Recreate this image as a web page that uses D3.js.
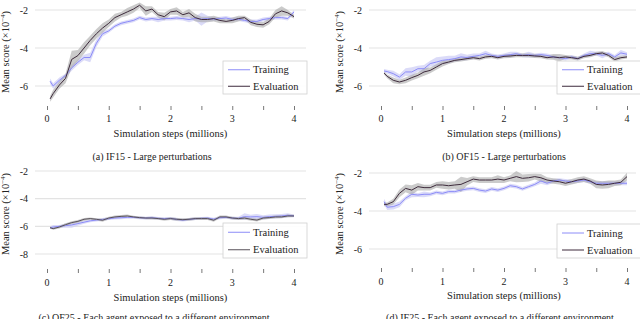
<!DOCTYPE html>
<html>
<head>
<meta charset="utf-8">
<script src="https://cdn.jsdelivr.net/npm/d3@7"></script>
<style>
  body { margin: 0; background: #fff; }
  svg { display: block; font-family: "Liberation Serif", "DejaVu Serif", serif; }
</style>
</head>
<body>
<svg id="chart" width="640" height="319"></svg>
<script>
// simulation steps (millions)
const steps = [0.05, 0.1, 0.2, 0.3, 0.4, 0.5, 0.6, 0.7, 0.8, 0.9, 1.0, 1.1, 1.2, 1.3, 1.4, 1.5, 1.6, 1.7, 1.8, 1.9, 2.0,
  2.1, 2.2, 2.3, 2.4, 2.5, 2.6, 2.7, 2.8, 2.9, 3.0, 3.1, 3.2, 3.3, 3.4, 3.5, 3.6, 3.7, 3.8, 3.9, 4.0];
const xTicks = [0, 1, 2, 3, 4];
const xMinorTicks = [0, 0.5, 1, 1.5, 2, 2.5, 3, 3.5, 4];

// (a) IF15
const trainIF15 = [-5.75, -6.0, -5.7, -5.45, -5.05, -4.75, -4.5, -4.5, -3.75, -3.25, -3.1, -2.85, -2.7, -2.62, -2.55, -2.4, -2.5, -2.45, -2.5, -2.45, -2.45,
  -2.42, -2.45, -2.5, -2.45, -2.48, -2.45, -2.48, -2.45, -2.42, -2.5, -2.48, -2.55, -2.6, -2.6, -2.5, -2.45, -2.4, -2.4, -2.45, -2.1];
const evalIF15 = [-6.68, -6.4, -5.95, -5.6, -4.6, -4.4, -4.0, -3.6, -3.25, -2.95, -2.7, -2.4, -2.25, -2.1, -1.95, -1.75, -2.05, -1.95, -2.25, -2.35, -2.1,
  -2.05, -2.25, -2.15, -2.4, -2.5, -2.5, -2.45, -2.55, -2.6, -2.55, -2.45, -2.4, -2.65, -2.75, -2.78, -2.6, -2.2, -2.05, -2.15, -2.35];
const trainIF15Band = [0.15, 0.15, 0.15, 0.1, 0.15, 0.15, 0.15, 0.25, 0.2, 0.15, 0.1, 0.1, 0.1, 0.1, 0.1, 0.1, 0.1, 0.1, 0.15, 0.1, 0.1,
  0.1, 0.1, 0.15, 0.1, 0.35, 0.15, 0.1, 0.1, 0.1, 0.1, 0.1, 0.1, 0.1, 0.1, 0.1, 0.1, 0.1, 0.1, 0.1, 0.1];
const evalIF15Band = [0.15, 0.2, 0.2, 0.25, 0.45, 0.3, 0.3, 0.25, 0.25, 0.25, 0.2, 0.2, 0.15, 0.2, 0.2, 0.15, 0.25, 0.15, 0.15, 0.2, 0.15,
  0.2, 0.15, 0.2, 0.2, 0.15, 0.15, 0.15, 0.15, 0.1, 0.15, 0.15, 0.1, 0.15, 0.15, 0.15, 0.15, 0.2, 0.25, 0.15, 0.1];

// (b) OF15
const trainOF15 = [-5.21, -5.24, -5.35, -5.53, -5.26, -5.26, -5.09, -5.09, -4.82, -4.74, -4.65, -4.61, -4.56, -4.47, -4.5, -4.44, -4.39, -4.3, -4.39, -4.44, -4.39,
  -4.35, -4.3, -4.39, -4.35, -4.39, -4.35, -4.39, -4.47, -4.51, -4.56, -4.47, -4.56, -4.39, -4.3, -4.3, -4.39, -4.3, -4.47, -4.26, -4.33];
const evalOF15 = [-5.32, -5.49, -5.7, -5.79, -5.7, -5.56, -5.44, -5.26, -5.18, -5.0, -4.82, -4.74, -4.65, -4.61, -4.56, -4.51, -4.56, -4.47, -4.44, -4.51, -4.44,
  -4.42, -4.39, -4.39, -4.39, -4.42, -4.44, -4.51, -4.47, -4.51, -4.47, -4.51, -4.56, -4.44, -4.39, -4.3, -4.26, -4.39, -4.61, -4.51, -4.47];
const trainOF15Band = [0.1, 0.1, 0.15, 0.15, 0.2, 0.25, 0.15, 0.2, 0.15, 0.25, 0.2, 0.2, 0.15, 0.2, 0.15, 0.15, 0.1, 0.15, 0.1, 0.1, 0.1,
  0.15, 0.1, 0.1, 0.15, 0.1, 0.1, 0.1, 0.1, 0.1, 0.1, 0.1, 0.1, 0.1, 0.15, 0.1, 0.15, 0.1, 0.1, 0.15, 0.1];
const evalOF15Band = [0.08, 0.1, 0.15, 0.12, 0.15, 0.15, 0.15, 0.2, 0.15, 0.15, 0.15, 0.1, 0.1, 0.1, 0.1, 0.1, 0.1, 0.1, 0.1, 0.1, 0.1,
  0.1, 0.1, 0.1, 0.1, 0.1, 0.1, 0.1, 0.15, 0.2, 0.1, 0.1, 0.1, 0.1, 0.1, 0.1, 0.1, 0.1, 0.12, 0.1, 0.08];

// (c) OF25
const trainOF25 = [-6.1, -6.05, -6.0, -5.95, -5.9, -5.8, -5.7, -5.6, -5.55, -5.5, -5.45, -5.4, -5.38, -5.35, -5.35, -5.38, -5.4, -5.38, -5.42, -5.45, -5.42,
  -5.5, -5.55, -5.5, -5.45, -5.42, -5.4, -5.48, -5.38, -5.35, -5.4, -5.42, -5.3, -5.32, -5.3, -5.35, -5.3, -5.28, -5.25, -5.2, -5.25];
const evalOF25 = [-6.1, -6.17, -6.05, -5.88, -5.73, -5.64, -5.49, -5.44, -5.49, -5.56, -5.4, -5.32, -5.28, -5.25, -5.32, -5.37, -5.4, -5.4, -5.44, -5.49, -5.44,
  -5.49, -5.52, -5.49, -5.44, -5.44, -5.44, -5.56, -5.32, -5.32, -5.4, -5.44, -5.4, -5.49, -5.55, -5.4, -5.37, -5.32, -5.32, -5.25, -5.25];
const trainOF25Band = [0.1, 0.15, 0.1, 0.15, 0.2, 0.15, 0.12, 0.1, 0.1, 0.1, 0.1, 0.1, 0.1, 0.1, 0.1, 0.1, 0.1, 0.1, 0.1, 0.1, 0.1,
  0.12, 0.1, 0.1, 0.1, 0.1, 0.1, 0.1, 0.1, 0.1, 0.1, 0.12, 0.25, 0.15, 0.2, 0.15, 0.15, 0.15, 0.15, 0.15, 0.1];
const evalOF25Band = [0.08, 0.08, 0.1, 0.1, 0.1, 0.1, 0.1, 0.08, 0.08, 0.1, 0.1, 0.1, 0.1, 0.1, 0.08, 0.08, 0.08, 0.1, 0.08, 0.1, 0.1,
  0.1, 0.1, 0.1, 0.1, 0.1, 0.1, 0.1, 0.1, 0.1, 0.1, 0.1, 0.1, 0.1, 0.1, 0.1, 0.1, 0.1, 0.1, 0.1, 0.08];

// (d) IF25
const trainIF25 = [-3.51, -3.8, -3.77, -3.65, -3.33, -3.12, -3.16, -3.12, -3.12, -3.02, -3.07, -2.98, -2.98, -2.9, -2.84, -2.81, -2.9, -2.95, -2.84, -2.9, -2.81,
  -2.67, -2.72, -2.84, -2.72, -2.6, -2.42, -2.54, -2.42, -2.37, -2.42, -2.46, -2.42, -2.37, -2.46, -2.54, -2.54, -2.54, -2.54, -2.54, -2.54];
const evalIF25 = [-3.65, -3.65, -3.51, -3.07, -2.81, -2.9, -2.72, -2.77, -2.77, -2.63, -2.63, -2.67, -2.63, -2.6, -2.46, -2.32, -2.37, -2.37, -2.37, -2.32, -2.37,
  -2.28, -2.19, -2.28, -2.25, -2.19, -2.25, -2.37, -2.42, -2.46, -2.54, -2.46, -2.37, -2.32, -2.42, -2.6, -2.63, -2.6, -2.54, -2.49, -2.19];
const trainIF25Band = [0.15, 0.15, 0.15, 0.15, 0.1, 0.15, 0.1, 0.15, 0.1, 0.1, 0.1, 0.1, 0.1, 0.1, 0.1, 0.1, 0.1, 0.1, 0.1, 0.1, 0.1,
  0.1, 0.1, 0.1, 0.1, 0.1, 0.15, 0.1, 0.1, 0.1, 0.1, 0.1, 0.1, 0.1, 0.1, 0.1, 0.1, 0.1, 0.1, 0.1, 0.1];
const evalIF25Band = [0.1, 0.1, 0.15, 0.2, 0.2, 0.25, 0.2, 0.15, 0.15, 0.15, 0.2, 0.2, 0.2, 0.4, 0.2, 0.15, 0.15, 0.15, 0.15, 0.2, 0.15,
  0.15, 0.3, 0.2, 0.2, 0.15, 0.2, 0.15, 0.15, 0.15, 0.15, 0.15, 0.15, 0.15, 0.15, 0.2, 0.2, 0.2, 0.15, 0.15, 0.2];

let trainColor = "#8c8cf8";
let trainBandColor = "#cfcff6";
let evalColor = "#3e2b3c";
let evalBandColor = "#a9a9a9";

const svg = d3.select("#chart");

// pixel frame of every panel
const panels = [
  { id: "a", caption: "(a) IF15 - Large perturbations", yTicks: [-6, -4, -2],
    train: trainIF15, evalv: evalIF15, trainBand: trainIF15Band, evalBand: evalIF15Band,
    gx: [35, 306], xr: [47, 294], yd: [-6, -2], yr: [86, 10], top: 0, bottom: 105,
    tickY: 106, labelY: 122, titleY: 137, capX: 152, capY: 160, yTitleX: 9, yTitleY: 52, yLabX: 28,
    legend: [223, 61, 84, 33], evalColor: evalColor },
  { id: "b", caption: "(b) OF15 - Large perturbations", yTicks: [-6, -4, -2],
    train: trainOF15, evalv: evalOF15, trainBand: trainOF15Band, evalBand: evalOF15Band,
    gx: [369, 636], xr: [381, 627], yd: [-6, -2], yr: [86, 10], top: 0, bottom: 105,
    tickY: 106, labelY: 122, titleY: 137, capX: 504, capY: 160, yTitleX: 343, yTitleY: 52, yLabX: 362,
    legend: [557, 61, 84, 33], evalColor: evalColor },
  { id: "c", caption: "(c) OF25 - Each agent exposed to a different environment", yTicks: [-8, -6, -4, -2],
    train: trainOF25, evalv: evalOF25, trainBand: trainOF25Band, evalBand: evalOF25Band,
    gx: [35, 306], xr: [47, 294], yd: [-8, -2], yr: [254, 171], top: 160, bottom: 268,
    tickY: 269, labelY: 286, titleY: 301, capX: 154, capY: 321, yTitleX: 9, yTitleY: 214, yLabX: 28,
    legend: [223, 223, 84, 35], evalColor: "#575059" },
  { id: "d", caption: "(d) IF25 - Each agent exposed to a different environment", yTicks: [-6, -4, -2],
    train: trainIF25, evalv: evalIF25, trainBand: trainIF25Band, evalBand: evalIF25Band,
    gx: [369, 636], xr: [381, 627], yd: [-6, -2], yr: [249, 173], top: 160, bottom: 268,
    tickY: 268, labelY: 285, titleY: 299, capX: 500, capY: 321, yTitleX: 343, yTitleY: 214, yLabX: 362,
    legend: [557, 224, 84, 34], evalColor: evalColor },
];

function drawPanel(p) {
  const x = d3.scaleLinear().domain([0, 4]).range(p.xr);
  const y = d3.scaleLinear().domain(p.yd).range(p.yr);
  const g = svg.append("g").attr("class", "panel-" + p.id);

  g.append("clipPath")
    .attr("id", "clip-" + p.id)
    .append("rect")
    .attr("x", p.gx[0])
    .attr("y", p.top)
    .attr("width", p.gx[1] - p.gx[0])
    .attr("height", p.bottom - p.top);

  // horizontal grid
  g.append("g")
    .selectAll("line")
    .data(p.yTicks)
    .enter()
    .append("line")
    .attr("x1", p.gx[0])
    .attr("x2", p.gx[1])
    .attr("y1", function (d) { return y(d); })
    .attr("y2", function (d) { return y(d); })
    .style("stroke", "#e3e3e3")
    .style("stroke-width", "1.2px");

  // y labels
  g.append("g")
    .selectAll("text")
    .data(p.yTicks)
    .enter()
    .append("text")
    .attr("x", p.yLabX)
    .attr("y", function (d) { return y(d) + 3.5; })
    .attr("text-anchor", "end")
    .style("font-size", "10px")
    .style("fill", "#222")
    .text(function (d) { return "-" + Math.abs(d); });

  // x axis: only tick marks, labels at integers
  const xAxis = d3.axisBottom(x).tickValues(xMinorTicks).tickSize(4).tickFormat("");
  const ax = g.append("g").attr("transform", "translate(0," + p.tickY + ")").call(xAxis);
  ax.select(".domain").remove();
  ax.selectAll(".tick line").style("stroke", "#555").style("stroke-width", "0.8px");

  g.append("g")
    .selectAll("text")
    .data(xTicks)
    .enter()
    .append("text")
    .attr("x", function (d) { return x(d); })
    .attr("y", p.labelY)
    .attr("text-anchor", "middle")
    .style("font-size", "10px")
    .style("fill", "#222")
    .text(function (d) { return d; });

  g.append("text")
    .attr("x", (p.xr[0] + p.xr[1]) / 2)
    .attr("y", p.titleY)
    .attr("text-anchor", "middle")
    .style("font-size", "10.5px")
    .style("fill", "#222")
    .text("Simulation steps (millions)");

  const yt = g.append("text")
    .attr("transform", "translate(" + p.yTitleX + "," + p.yTitleY + ") rotate(-90)")
    .attr("text-anchor", "middle")
    .style("font-size", "10.5px")
    .style("fill", "#222");
  yt.append("tspan").text("Mean score (×10");
  yt.append("tspan").attr("dy", "-4").style("font-size", "7px").text("−4");
  yt.append("tspan").attr("dy", "4").text(")");

  // caption
  g.append("text")
    .attr("x", p.capX)
    .attr("y", p.capY)
    .attr("text-anchor", "middle")
    .style("font-size", "10px")
    .style("fill", "#222")
    .text(p.caption);

  // bands and lines
  const plot = g.append("g").attr("clip-path", "url(#clip-" + p.id + ")");

  const bandOf = function (vals, spread) {
    return d3.area()
      .x(function (d, i) { return x(steps[i]); })
      .y0(function (d, i) { return y(vals[i] - spread[i]); })
      .y1(function (d, i) { return y(vals[i] + spread[i]); })(vals);
  };
  const lineOf = d3.line()
    .x(function (d, i) { return x(steps[i]); })
    .y(function (d) { return y(d); });

  plot.append("path")
    .attr("d", bandOf(p.train, p.trainBand))
    .style("fill", trainBandColor)
    .style("opacity", 0.75);
  plot.append("path")
    .attr("d", bandOf(p.evalv, p.evalBand))
    .style("fill", evalBandColor)
    .style("opacity", 0.6);
  plot.append("path")
    .attr("d", lineOf(p.train))
    .style("fill", "none")
    .style("stroke", trainColor)
    .style("stroke-width", "1px");
  plot.append("path")
    .attr("d", lineOf(p.evalv))
    .style("fill", "none")
    .style("stroke", p.evalColor)
    .style("stroke-width", "1px");

  // legend
  const lg = g.append("g").attr("transform", "translate(" + p.legend[0] + "," + p.legend[1] + ")");
  lg.append("rect")
    .attr("width", p.legend[2])
    .attr("height", p.legend[3])
    .style("fill", "white")
    .style("fill-opacity", 0.9)
    .style("stroke", "#d0d0d0")
    .style("stroke-width", "0.8px");
  const entries = [{ name: "Training", color: trainColor }, { name: "Evaluation", color: p.evalColor }];
  const rowH = p.legend[3] / 2;
  lg.selectAll("g.entry")
    .data(entries)
    .enter()
    .append("g")
    .attr("class", "entry")
    .each(function (d, i) {
      const cy = rowH * (i + 0.5) + 0.5;
      const e = d3.select(this);
      e.append("line")
        .attr("x1", 5).attr("x2", 27)
        .attr("y1", cy).attr("y2", cy)
        .style("stroke", d.color)
        .style("stroke-width", "1px");
      e.append("text")
        .attr("x", 30)
        .attr("y", cy + 3.5)
        .style("font-size", "10.5px")
        .style("fill", "#222")
        .text(d.name);
    });
}

panels.forEach(drawPanel);
</script>
</body>
</html>
